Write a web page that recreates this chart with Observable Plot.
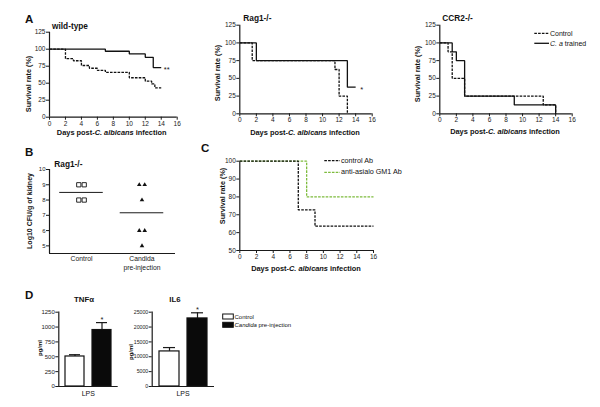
<!DOCTYPE html>
<html><head><meta charset="utf-8">
<script src="https://cdn.jsdelivr.net/npm/d3@7"></script>
<script src="https://cdn.jsdelivr.net/npm/@observablehq/plot@0.6"></script>
<style>
body{margin:0;background:#fff;font-family:"Liberation Sans",Arial,sans-serif;color:#111;}
#fig{position:relative;width:600px;height:407px;overflow:hidden;background:#fff;}
.t{position:absolute;white-space:nowrap;line-height:1;}
</style></head>
<body><div id="fig"></div>
<script>
// ---------- data ----------
const dayTicks = [0, 2, 4, 6, 8, 10, 12, 14, 16];
const survTicks = [0, 25, 50, 75, 100, 125];

const wtControlDays = [0, 2, 3, 4, 5, 6, 7, 10, 12, 12.8, 13.2, 14];
const wtControlSurv = [100, 86, 83, 76, 72, 69, 66, 58, 53, 49, 43, 43];
const wtTrainedDays = [0, 7, 10, 12, 13, 14];
const wtTrainedSurv = [100, 97, 93, 88, 73, 73];

const ragControlDays = [0, 1.5, 11.5, 12, 13];
const ragControlSurv = [100, 75, 62.5, 25, 0];
const ragTrainedDays = [0, 2, 13, 14];
const ragTrainedSurv = [100, 75, 37.5, 37.5];

const ccrControlDays = [0, 1, 1.5, 3, 12.5, 14];
const ccrControlSurv = [100, 87.5, 50, 25, 12.5, 0];
const ccrTrainedDays = [0, 1.5, 2, 3, 9, 14];
const ccrTrainedSurv = [100, 87.5, 75, 25, 12.5, 0];

const nkTicks = [50, 60, 70, 80, 90, 100];
const nkControlDays = [0, 7, 9, 16];
const nkControlSurv = [100, 72.7, 63.6, 63.6];
const nkAsialoDays = [0, 8, 16];
const nkAsialoSurv = [100, 80, 80];

const cfuTicks = [5, 6, 7, 8, 9, 10];
const cfuControl = [9, 9, 8, 8];
const cfuCandida = [9, 9, 8, 6, 6, 5];

const cytoGroups = ["Control", "Candida pre-injection"];
const tnfTicks = [0, 250, 500, 750, 1000, 1250];
const tnfMean = [505, 950];
const tnfSem = [30, 125];
const tnfSig = ["", "*"];
const il6Ticks = [0, 5000, 10000, 15000, 20000, 25000];
const il6Mean = [11800, 22900];
const il6Sem = [1300, 1900];
const il6Sig = ["", "*"];

// ---------- helpers ----------
const FONT = "Liberation Sans, Arial, sans-serif";
const intFmt = d3.format("d");
const fig = document.getElementById("fig");
function put(node, left, top) {
  node.style.position = "absolute";
  node.style.left = left + "px";
  node.style.top = top + "px";
  fig.appendChild(node);
}
function txt(html, x, y, o = {}) {
  const d = document.createElement("div");
  d.className = "t";
  d.innerHTML = html;
  const size = o.size || 6, weight = o.weight || "normal";
  const tx = o.anchor === "start" ? "0" : "-50%";
  d.style.left = x + "px";
  d.style.top = y + "px";
  d.style.fontSize = size + "px";
  d.style.fontWeight = weight;
  d.style.transform = `translate(${tx},-50%)` + (o.rotate ? ` rotate(${o.rotate}deg)` : "");
  fig.appendChild(d);
}
const baseStyle = {fontFamily: FONT, background: "transparent", color: "#1a1a1a", overflow: "visible"};

function stepLine(days, surv, o) {
  return Plot.line(d3.zip(days, surv), {
    x: d => d[0], y: d => d[1], curve: "step-after",
    stroke: o.color || "#111", strokeWidth: 1.3,
    strokeDasharray: o.dash ? "2.6,1.2" : null,
    strokeLinecap: "butt", strokeLinejoin: "miter"
  });
}

function survPlot(cfg) {
  const {left, top, w, h, x0, x1, yTop, yBot, yDomain, yTicks, series, sig} = cfg;
  const marks = [
    Plot.axisX({ticks: dayTicks, tickFormat: intFmt, tickSize: 3, tickPadding: 1, fontSize: 6.5, label: null}),
    Plot.axisY({ticks: yTicks, tickFormat: intFmt, tickSize: 3, tickPadding: 1, fontSize: 6.5, label: null}),
    Plot.ruleX([0], {strokeWidth: 1.2}),
    Plot.ruleY([yDomain[0]], {strokeWidth: 1.2}),
    ...series.map(s => stepLine(s.days, s.surv, s))
  ];
  if (sig) {
    const days = sig.days, surv = sig.surv;
    marks.push(Plot.text([{t: days[days.length - 1], s: surv[surv.length - 1]}], {
      x: "t", y: "s", text: () => sig.label, textAnchor: "start", dx: sig.dx, dy: 2, fontSize: 7.5
    }));
  }
  const p = Plot.plot({
    width: w, height: h,
    marginLeft: x0 - left, marginRight: left + w - x1,
    marginTop: yTop - top, marginBottom: top + h - yBot,
    style: baseStyle,
    x: {domain: [0, 16]},
    y: {domain: yDomain},
    marks
  });
  put(p, left, top);
}

// ---------- Panel A ----------
survPlot({left: 0, top: 0, w: 200, h: 140, x0: 49, x1: 176.7, yTop: 31.7, yBot: 116.7,
  yDomain: [0, 125], yTicks: survTicks,
  series: [{days: wtControlDays, surv: wtControlSurv, dash: true}, {days: wtTrainedDays, surv: wtTrainedSurv}],
  sig: {days: wtTrainedDays, surv: wtTrainedSurv, label: "**", dx: 2.5}});
survPlot({left: 200, top: 0, w: 200, h: 140, x0: 239.3, x1: 371.7, yTop: 24.7, yBot: 113.3,
  yDomain: [0, 125], yTicks: survTicks,
  series: [{days: ragControlDays, surv: ragControlSurv, dash: true}, {days: ragTrainedDays, surv: ragTrainedSurv}],
  sig: {days: ragTrainedDays, surv: ragTrainedSurv, label: "*", dx: 4.5}});
survPlot({left: 400, top: 0, w: 200, h: 140, x0: 439.3, x1: 571.7, yTop: 24.7, yBot: 113.3,
  yDomain: [0, 125], yTicks: survTicks,
  series: [{days: ccrControlDays, surv: ccrControlSurv, dash: true}, {days: ccrTrainedDays, surv: ccrTrainedSurv}]});

// ---------- Panel C ----------
survPlot({left: 200, top: 140, w: 210, h: 140, x0: 239.3, x1: 373, yTop: 160.7, yBot: 250,
  yDomain: [50, 100], yTicks: nkTicks,
  series: [{days: nkAsialoDays, surv: nkAsialoSurv, dash: true, color: "#7dbb3c"},
           {days: nkControlDays, surv: nkControlSurv, dash: true}]});

// ---------- Panel B ----------
{
  const xMin = 0.471, xMax = 2.554, half = 0.36, spread = 0.09;
  const jitter = (vals, center) => vals.map((v, i) => {
    const same = vals.filter(u => u === v);
    const k = vals.slice(0, i).filter(u => u === v).length;
    return {x: center + (k - (same.length - 1) / 2) * spread, y: v};
  });
  const ctrl = jitter(cfuControl, 1), cand = jitter(cfuCandida, 2);
  const means = [{c: 1, m: d3.mean(cfuControl)}, {c: 2, m: d3.mean(cfuCandida)}];
  const p = Plot.plot({
    width: 200, height: 140, marginLeft: 49, marginRight: 25, marginTop: 29, marginBottom: 27,
    style: baseStyle,
    x: {domain: [xMin, xMax], axis: null},
    y: {domain: [4.5, 10]},
    marks: [
      Plot.axisY({ticks: cfuTicks, tickFormat: intFmt, tickSize: 3, tickPadding: 1, fontSize: 6, label: null}),
      Plot.ruleX([xMin], {strokeWidth: 1.2}),
      Plot.ruleY([4.5], {strokeWidth: 1.2}),
      Plot.ruleY(means, {y: "m", x1: d => d.c - half, x2: d => d.c + half, strokeWidth: 1}),
      Plot.dot(ctrl, {x: "x", y: "y", symbol: "square", r: 2.4, stroke: "#111", strokeWidth: 0.9, fill: "white"}),
      Plot.dot(cand, {x: "x", y: "y", symbol: "triangle", r: 1.7, fill: "#111", stroke: "none"}),
      Plot.text([{c: 1, a: "Control"}, {c: 2, a: "Candida"}],
        {x: "c", frameAnchor: "bottom", text: "a", dy: 7.5, fontSize: 6.8,
         fontStyle: d => d.c === 2 ? "italic" : "normal"}),
      Plot.text([{c: 2, b: "pre-injection"}],
        {x: "c", frameAnchor: "bottom", text: "b", dy: 16.8, fontSize: 6.8})
    ]
  });
  put(p, 0, 140);
}

// ---------- Panel D ----------
function barPlot(cfg) {
  const {left, top, w, h, x0, x1, yDomain, ticks, mean, sem, sig, fs} = cfg;
  const data = cytoGroups.map((g, i) => ({g, m: mean[i], e: sem[i], s: sig[i]}));
  const p = Plot.plot({
    width: w, height: h,
    marginLeft: x0 - left, marginRight: left + w - x1,
    marginTop: 311.7 - top, marginBottom: top + h - 386,
    style: baseStyle,
    x: {type: "band", domain: cytoGroups, paddingInner: 0.3, paddingOuter: 0.23, axis: null},
    y: {domain: yDomain},
    color: {domain: cytoGroups, range: ["white", "#0a0a0a"]},
    marks: [
      Plot.axisY({ticks, tickFormat: intFmt, tickSize: 3, tickPadding: 1, fontSize: fs, label: null}),
      Plot.ruleX(data, {x: "g", y1: "m", y2: d => d.m + d.e, strokeWidth: 1.2}),
      Plot.tickY(data, {x: "g", y: d => d.m + d.e, insetLeft: 4, insetRight: 4, strokeWidth: 1.2}),
      Plot.barY(data, {x: "g", y: "m", fill: "g", stroke: "#111", strokeWidth: 1.2}),
      Plot.frame({anchor: "left", strokeWidth: 1.2}),
      Plot.ruleY([0], {strokeWidth: 1.2}),
      Plot.text(data.filter(d => d.s), {x: "g", y: d => d.m + d.e, text: "s", dy: -3, fontSize: 7.5})
    ]
  });
  put(p, left, top);
}
barPlot({left: 0, top: 290, w: 130, h: 117, x0: 58.3, x1: 117.7, yDomain: [0, 1250], ticks: tnfTicks, mean: tnfMean, sem: tnfSem, sig: tnfSig, fs: 6});
barPlot({left: 130, top: 290, w: 100, h: 117, x0: 151.7, x1: 214, yDomain: [0, 25000], ticks: il6Ticks, mean: il6Mean, sem: il6Sem, sig: il6Sig, fs: 5.2});

// ---------- legend symbols overlay ----------
const ov = d3.create("svg").attr("width", 600).attr("height", 407)
  .style("position", "absolute").style("left", "0px").style("top", "0px").style("pointer-events", "none");
const seg = (x1, x2, y, dash, color) => ov.append("line").attr("x1", x1).attr("x2", x2).attr("y1", y).attr("y2", y)
  .attr("stroke", color || "#111").attr("stroke-width", 1.3).attr("stroke-dasharray", dash ? "2.6,1.2" : null);
seg(534.3, 549, 33.3, true);
seg(534.3, 549, 43.3, false);
seg(324.3, 340, 160.7, true);
seg(324.3, 340, 172.3, true, "#7dbb3c");
ov.append("rect").attr("x", 222.7).attr("y", 314).attr("width", 10.6).attr("height", 5).attr("fill", "white").attr("stroke", "#111").attr("stroke-width", 1);
ov.append("rect").attr("x", 222.7).attr("y", 322.3).attr("width", 10.6).attr("height", 5).attr("fill", "#0a0a0a").attr("stroke", "#111").attr("stroke-width", 1);
fig.appendChild(ov.node());

// ---------- texts ----------
const B = "bold";
txt("A", 25, 20, {size: 11.5, weight: B, anchor: "start"});
txt("B", 25, 152.5, {size: 11.5, weight: B, anchor: "start"});
txt("C", 201, 148.5, {size: 11.5, weight: B, anchor: "start"});
txt("D", 25, 296, {size: 11.5, weight: B, anchor: "start"});

txt("wild-type", 52, 26, {size: 8.3, weight: B, anchor: "start"});
txt("Rag1-/-", 243.3, 18.3, {size: 8.3, weight: B, anchor: "start"});
txt("CCR2-/-", 442.3, 18.3, {size: 8.3, weight: B, anchor: "start"});
txt("Rag1-/-", 54.3, 164, {size: 8.3, weight: B, anchor: "start"});

txt("Survival rate (%)", 29.3, 84, {size: 7.2, weight: B, rotate: -90});
txt("Survival rate (%)", 218.3, 73, {size: 7.2, weight: B, rotate: -90});
txt("Survival rate (%)", 418.3, 74, {size: 7.2, weight: B, rotate: -90});
txt("Survival rate (%)", 223.3, 196, {size: 7.2, weight: B, rotate: -90});
txt("Log10 CFU/g of kidney", 29.3, 211, {size: 7, weight: B, rotate: -90});

const daysTitle = "Days post-<i>C. albicans</i> infection";
txt(daysTitle, 111.7, 133, {size: 7.4, weight: B});
txt(daysTitle, 305, 132.5, {size: 7.4, weight: B});
txt(daysTitle, 505, 132, {size: 7.4, weight: B});
txt(daysTitle, 306, 269, {size: 7.4, weight: B});

txt("Control", 550, 33.3, {size: 7, anchor: "start"});
txt("<i>C. a</i> trained", 550, 43.3, {size: 7, anchor: "start"});
txt("control Ab", 341, 160.7, {size: 7.2, anchor: "start"});
txt("anti-asialo GM1 Ab", 341, 172.3, {size: 7.2, anchor: "start"});

txt("TNF&alpha;", 84, 300, {size: 7.8, weight: B});
txt("IL6", 175, 300, {size: 7.8, weight: B});
txt("pg/ml", 40, 348, {size: 6, weight: B, rotate: -90});
txt("pg/ml", 131, 351.7, {size: 6, weight: B, rotate: -90});
txt("LPS", 88.3, 393.3, {size: 7});
txt("LPS", 183, 393.3, {size: 7});
txt("Control", 234.5, 316.5, {size: 6, anchor: "start"});
txt("<i>Candida</i> pre-injection", 234.5, 324.8, {size: 6, anchor: "start"});
</script>
</body></html>
